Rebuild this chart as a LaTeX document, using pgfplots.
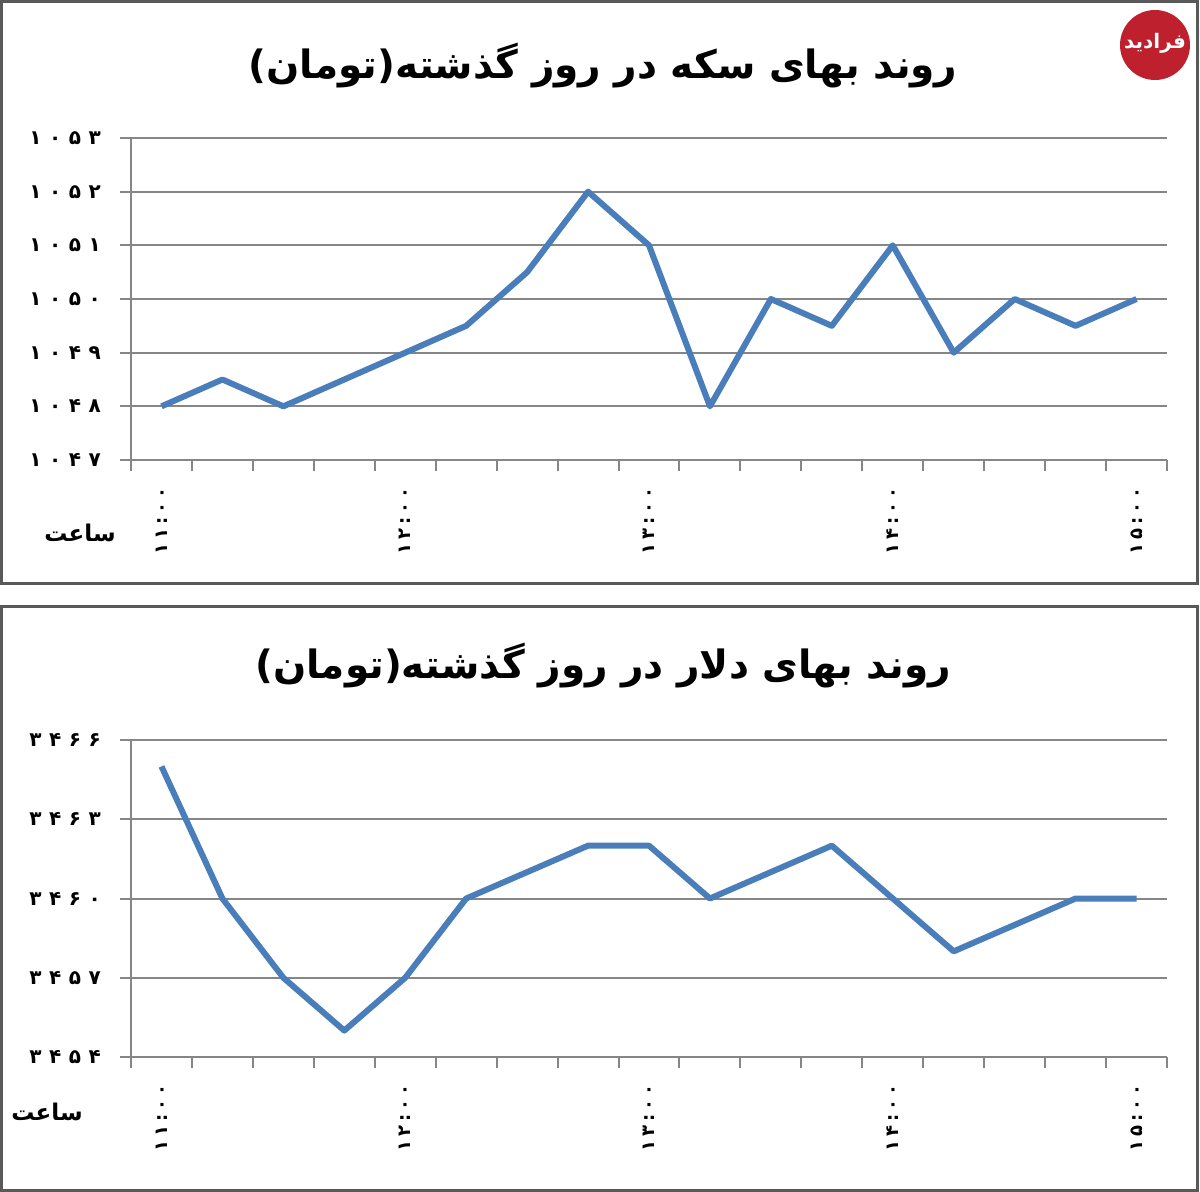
\documentclass[border=0pt]{standalone}
\usepackage{pgfplots}
\pgfplotsset{compat=1.18}
\usepackage{fontspec}
\TeXXeTstate=1
\newfontfamily\fa[Script=Arabic]{DejaVu Sans}
\definecolor{linec}{RGB}{74,126,187}
\definecolor{gridc}{RGB}{134,134,134}
\definecolor{logored}{RGB}{190,32,46}
% spacing between the Persian digits of the tick labels
\def\g{\hskip3.8pt}
\def\h{\hskip2pt}

\pgfplotsset{
  excel/.style={
    scale only axis, width=518pt,
    xmin=-0.5, xmax=16.5,
    axis lines*=left,
    axis line style={gridc, line width=1pt},
    xtick={-0.5,0.5,...,16.5}, xticklabels={},
    ymajorgrids, major grid style={gridc, line width=1pt},
    tick align=outside, major tick length=5.5pt,
    tick style={gridc, line width=1pt},
    yticklabel style={font=\fa\bfseries\fontsize{10}{10}\selectfont, xshift=-6pt},
    extra x ticks={0,4,8,12,16},
    extra x tick labels={۱\h۱\h:\h۰\h۰, ۱\h۲\h:\h۰\h۰, ۱\h۳\h:\h۰\h۰, ۱\h۴\h:\h۰\h۰, ۱\h۵\h:\h۰\h۰},
    extra x tick style={major tick length=0pt, xticklabel shift=10pt,
      xticklabel style={rotate=90, anchor=east, font=\fa\bfseries\fontsize{9}{9}\selectfont}},
    clip=false,
  },
}

\begin{document}
\begin{tikzpicture}
\begin{scope}[x=0.5pt, y=-0.5pt]
  \path[use as bounding box] (0,0) rectangle (1200,1192);
  % panel frames
  \draw[gray!70!black, line width=1.5pt] (1.5,2) rectangle (1197.5,584);
  \draw[gray!70!black, line width=1.5pt] (1.5,606) rectangle (1197.5,1190);
  % titles
  \node at (603,66) {\fa\bfseries\fontsize{19.5}{19.5}\selectfont\beginR روند بهای سکه در روز گذشته(تومان)\endR};
  \node at (603,666) {\fa\bfseries\fontsize{19.5}{19.5}\selectfont\beginR روند بهای دلار در روز گذشته(تومان)\endR};
  % x axis caption
  \node at (80,533) {\fa\bfseries\fontsize{11.5}{11.5}\selectfont\beginR ساعت\endR};
  \node at (47,1112) {\fa\bfseries\fontsize{11.5}{11.5}\selectfont\beginR ساعت\endR};
  % logo
  \fill[logored] (1155,45) circle (35);
  \node[white] at (1155,43) {\fa\bfseries\fontsize{10}{10}\selectfont\beginR فرادید\endR};
\end{scope}

% coin price
\begin{axis}[excel, at={(65.5pt,-230pt)}, anchor=south west, height=161pt,
  ymin=1047, ymax=1053, ytick={1047,...,1053},
  yticklabels={۱\g۰\g۴\g۷, ۱\g۰\g۴\g۸, ۱\g۰\g۴\g۹, ۱\g۰\g۵\g۰, ۱\g۰\g۵\g۱, ۱\g۰\g۵\g۲, ۱\g۰\g۵\g۳}]
\addplot[linec, line width=3pt, line join=round] table {
x y
0 1048
1 1048.5
2 1048
3 1048.5
4 1049
5 1049.5
6 1050.5
7 1052
8 1051
9 1048
10 1050
11 1049.5
12 1051
13 1049
14 1050
15 1049.5
16 1050
};
\end{axis}

% dollar price
\begin{axis}[excel, at={(65.5pt,-528.5pt)}, anchor=south west, height=158.5pt,
  ymin=3454, ymax=3466, ytick={3454,3457,...,3466},
  yticklabels={۳\g۴\g۵\g۴, ۳\g۴\g۵\g۷, ۳\g۴\g۶\g۰, ۳\g۴\g۶\g۳, ۳\g۴\g۶\g۶}]
\addplot[linec, line width=3pt, line join=round] table {
x y
0 3465
1 3460
2 3457
3 3455
4 3457
5 3460
6 3461
7 3462
8 3462
9 3460
10 3461
11 3462
12 3460
13 3458
14 3459
15 3460
16 3460
};
\end{axis}
\end{tikzpicture}
\end{document}
